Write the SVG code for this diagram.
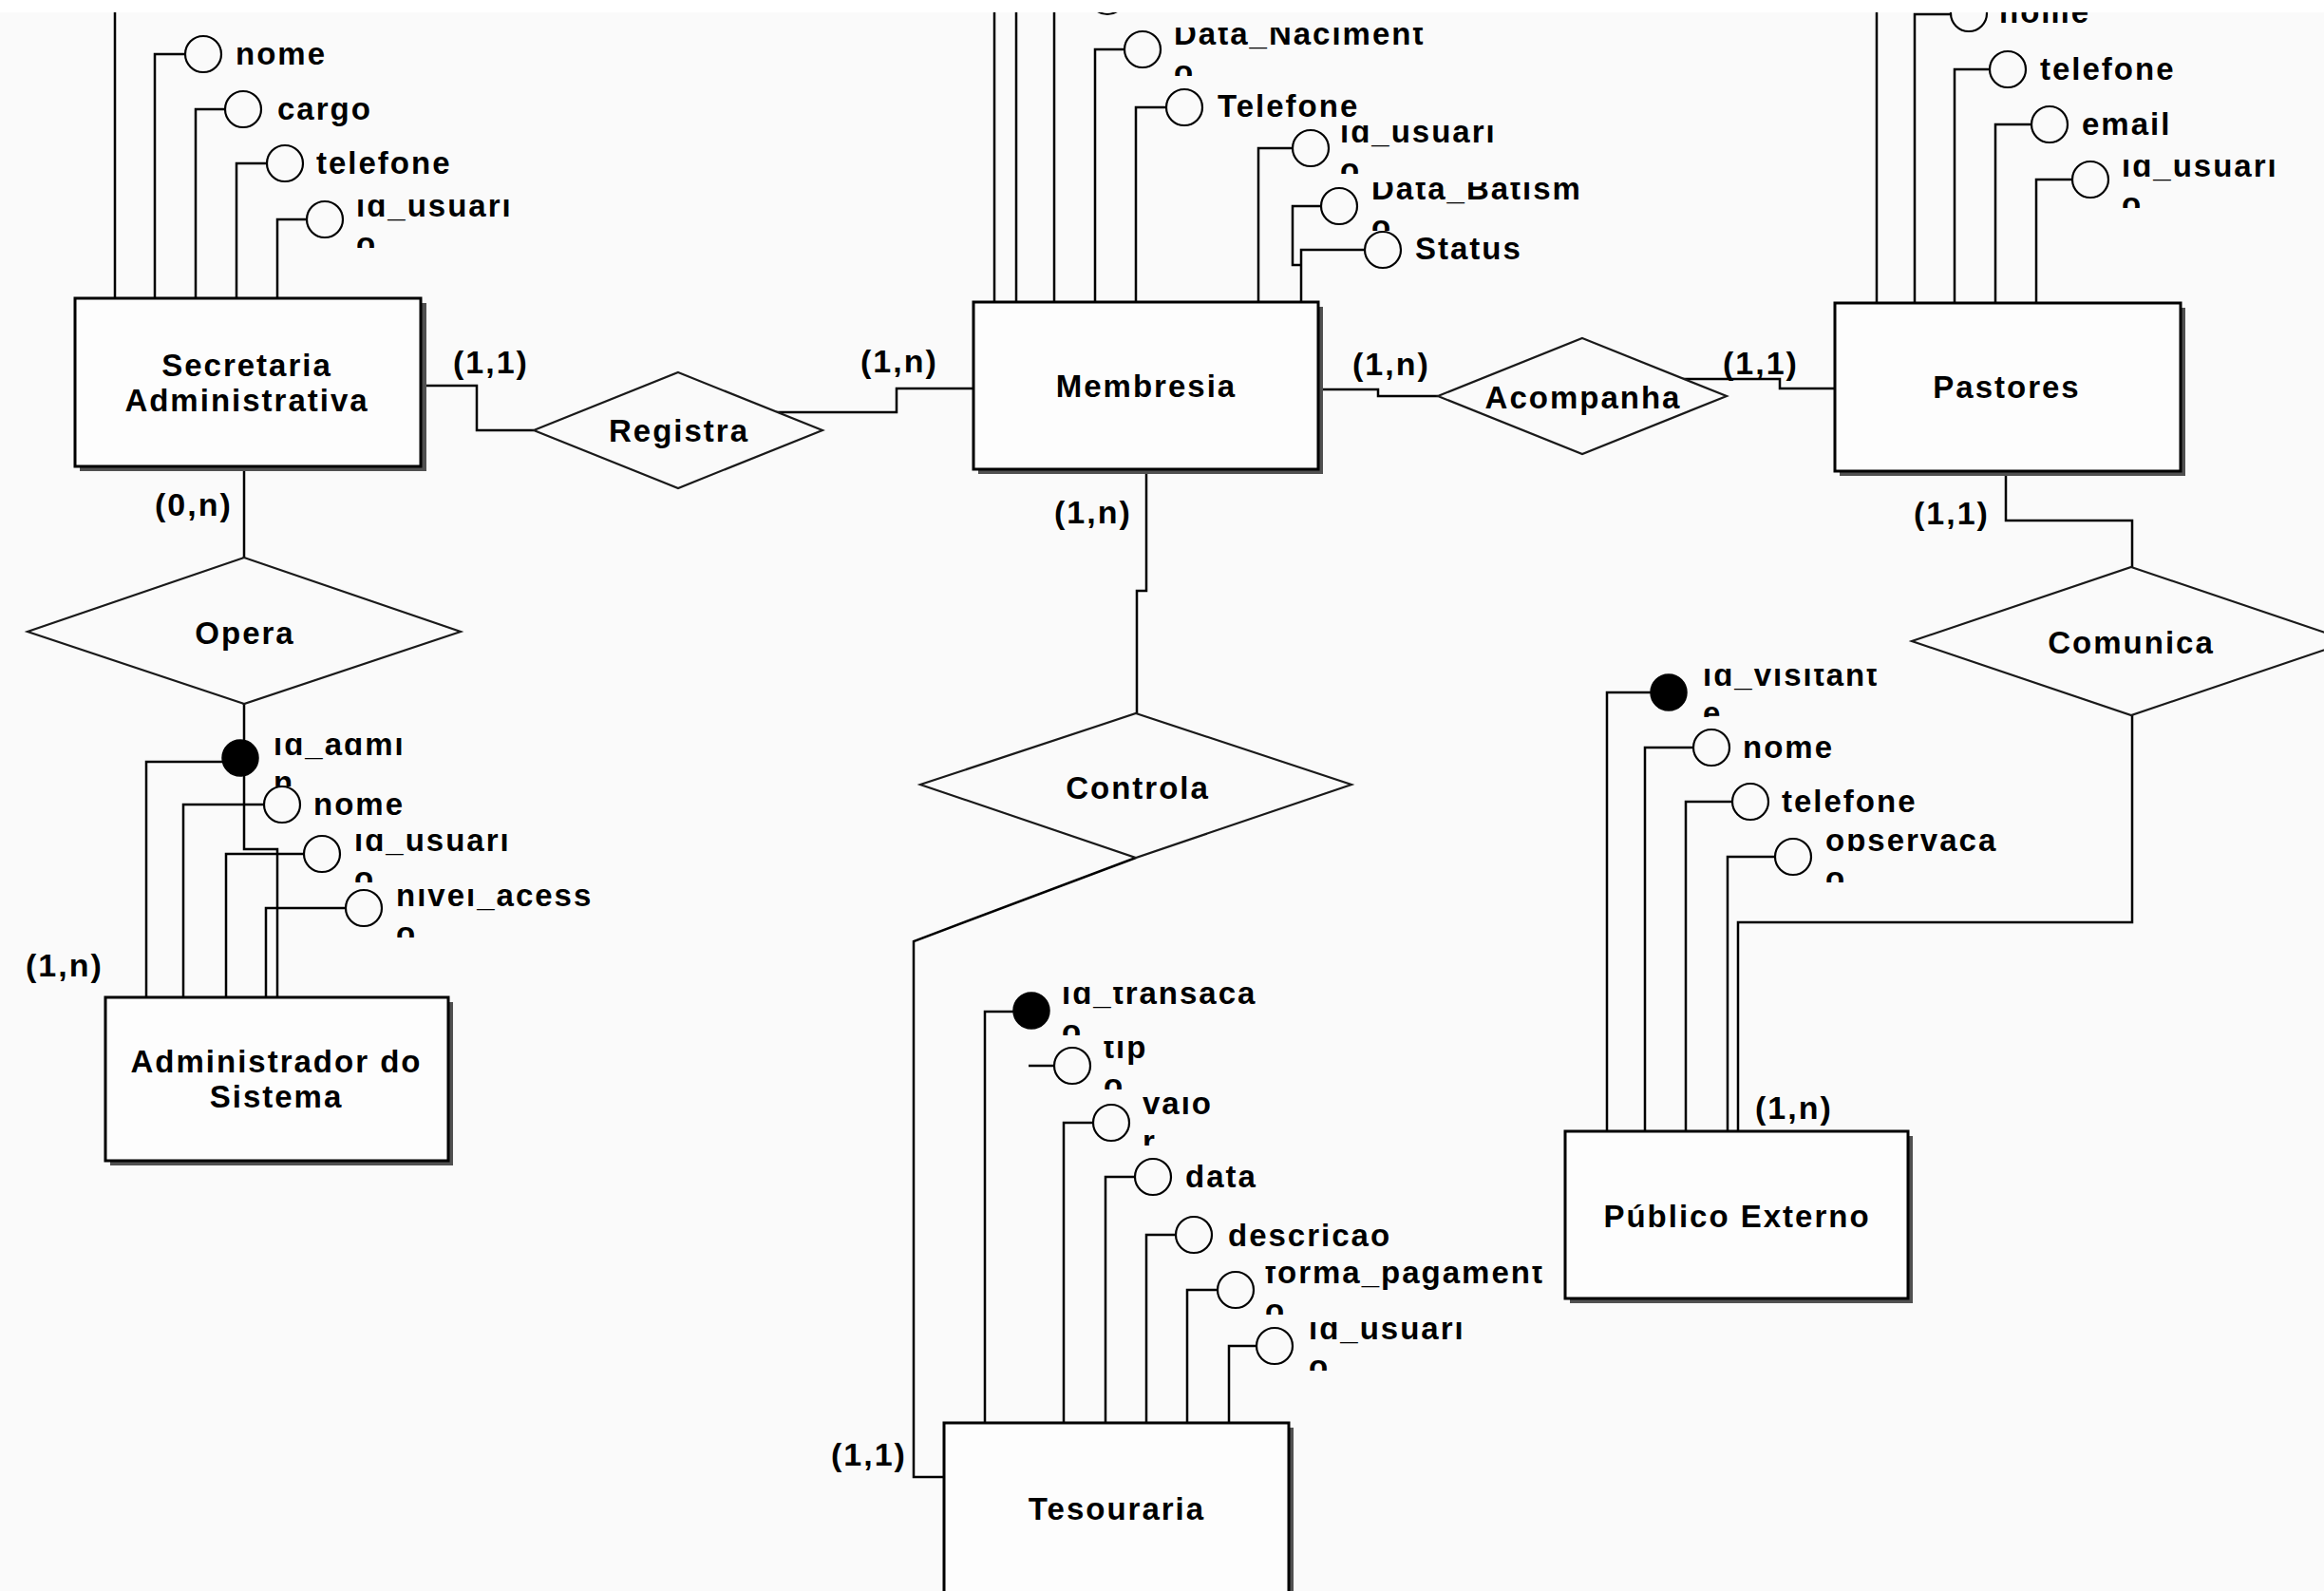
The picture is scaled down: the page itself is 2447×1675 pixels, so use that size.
<svg xmlns="http://www.w3.org/2000/svg" width="2447" height="1675" viewBox="0 0 2447 1675">
<style>
text{font-family:"Liberation Sans",Arial,sans-serif;font-weight:bold;fill:#000}
.t{font-size:33px;letter-spacing:2px}
.c{font-size:34px;letter-spacing:2px}
.mid{text-anchor:middle}
.ent{fill:#fdfdfd;stroke:#000;stroke-width:3}
.sh{fill:#505050}
.rel{fill:#fafafa;stroke:#1a1a1a;stroke-width:2.2}
.att{fill:none;stroke:#000;stroke-width:2.2}
.key{fill:#000;stroke:#000;stroke-width:1.5}
.ln path{fill:none;stroke:#000;stroke-width:2.5}
</style>
<defs>
<clipPath id="view"><rect x="0" y="13" width="2447" height="1662"/></clipPath>
<clipPath id="k1"><rect x="372" y="210" width="320" height="51"/></clipPath>
<clipPath id="k2"><rect x="1233" y="29" width="320" height="51"/></clipPath>
<clipPath id="k3"><rect x="1408" y="132" width="320" height="51"/></clipPath>
<clipPath id="k4"><rect x="1441" y="192" width="320" height="51"/></clipPath>
<clipPath id="k5"><rect x="2231" y="168" width="320" height="51"/></clipPath>
<clipPath id="k6"><rect x="285" y="777" width="320" height="51"/></clipPath>
<clipPath id="k7"><rect x="370" y="878" width="320" height="51"/></clipPath>
<clipPath id="k8"><rect x="414" y="936" width="320" height="51"/></clipPath>
<clipPath id="k9"><rect x="1115" y="1039" width="320" height="51"/></clipPath>
<clipPath id="k10"><rect x="1159" y="1096" width="320" height="51"/></clipPath>
<clipPath id="k11"><rect x="1200" y="1155" width="320" height="51"/></clipPath>
<clipPath id="k12"><rect x="1329" y="1333" width="330" height="51"/></clipPath>
<clipPath id="k13"><rect x="1375" y="1392" width="320" height="51"/></clipPath>
<clipPath id="k14"><rect x="1790" y="704" width="320" height="51"/></clipPath>
<clipPath id="k15"><rect x="1919" y="878" width="320" height="51"/></clipPath>
</defs>
<rect x="0" y="0" width="2447" height="1675" fill="#fafafa"/>
<rect x="0" y="0" width="2447" height="13" fill="#ffffff"/>
<g clip-path="url(#view)">
<g id="connectors" class="ln">
<path d="M443,406 H502 V453 H562"/>
<path d="M817,434 H944 V409 H1025"/>
<path d="M257,491 V587"/>
<path d="M257,741 V894 H292 V1050"/>
<path d="M1390,410 H1451 V417 H1514"/>
<path d="M1771,399 H1874 V409 H1932"/>
<path d="M1207,494 V622 H1197 V751"/>
<path d="M1196,903 L962,991 V1555 H994"/>
<path d="M2112,496 V548 H2245 V597"/>
<path d="M2245,753 V971 H1830 V1191"/>
<path d="M121,314 V0"/>
<path d="M163,314 V57 H195"/>
<path d="M206,314 V115 H237"/>
<path d="M249,314 V172 H281"/>
<path d="M292,314 V231 H323"/>
<path d="M1047,318 V0"/>
<path d="M1070,318 V0"/>
<path d="M1110,318 V0"/>
<path d="M1153,318 V52 H1184"/>
<path d="M1196,318 V113 H1228"/>
<path d="M1325,318 V156 H1361"/>
<path d="M1370,279 H1361 V217 H1391"/>
<path d="M1370,318 V263 H1437"/>
<path d="M1976,319 V0"/>
<path d="M2016,319 V15 H2054"/>
<path d="M2058,319 V73 H2095"/>
<path d="M2101,319 V131 H2139"/>
<path d="M2144,319 V189 H2182"/>
<path d="M154,1050 V802 H234"/>
<path d="M193,1050 V847 H278"/>
<path d="M238,1050 V899 H320"/>
<path d="M280,1050 V956 H364"/>
<path d="M1037,1498 V1065 H1067"/>
<path d="M1083,1122 H1110"/>
<path d="M1120,1498 V1182 H1151"/>
<path d="M1164,1498 V1239 H1195"/>
<path d="M1207,1498 V1300 H1238"/>
<path d="M1250,1498 V1358 H1282"/>
<path d="M1294,1498 V1417 H1323"/>
<path d="M1692,1191 V729 H1738"/>
<path d="M1732,1191 V787 H1783"/>
<path d="M1775,1191 V844 H1824"/>
<path d="M1819,1191 V902 H1869"/>
</g>

<g id="cardinalities">
<text class="c" x="477" y="393">(1,1)</text>
<text class="c" x="906" y="392">(1,n)</text>
<text class="c" x="163" y="543">(0,n)</text>
<text class="c" x="27" y="1028">(1,n)</text>
<text class="c" x="1424" y="395">(1,n)</text>
<text class="c" x="1814" y="394">(1,1)</text>
<text class="c" x="1110" y="551">(1,n)</text>
<text class="c" x="2015" y="552">(1,1)</text>
<text class="c" x="1848" y="1178">(1,n)</text>
<text class="c" x="875" y="1543">(1,1)</text>
</g>

<g id="secretaria">
<rect class="sh" x="84" y="319" width="365" height="177"/>
<rect class="ent" x="79" y="314" width="364" height="177"/>
<text class="t mid"><tspan x="260" y="396">Secretaria</tspan><tspan x="260" y="433">Administrativa</tspan></text>
</g>
<g id="membresia">
<rect class="sh" x="1030" y="323" width="363" height="176"/>
<rect class="ent" x="1025" y="318" width="363" height="176"/>
<text class="t mid" x="1207" y="418">Membresia</text>
</g>
<g id="pastores">
<rect class="sh" x="1937" y="324" width="364" height="177"/>
<rect class="ent" x="1932" y="319" width="364" height="177"/>
<text class="t mid" x="2113" y="419">Pastores</text>
</g>
<g id="administrador">
<rect class="sh" x="116" y="1055" width="361" height="172"/>
<rect class="ent" x="111" y="1050" width="361" height="172"/>
<text class="t mid"><tspan x="291" y="1129">Administrador do</tspan><tspan x="291" y="1166">Sistema</tspan></text>
</g>
<g id="publico-externo">
<rect class="sh" x="1653" y="1196" width="361" height="176"/>
<rect class="ent" x="1648" y="1191" width="361" height="176"/>
<text class="t mid" x="1829" y="1292">Público Externo</text>
</g>
<g id="tesouraria">
<rect class="sh" x="999" y="1503" width="363" height="190"/>
<rect class="ent" x="994" y="1498" width="363" height="190"/>
<text class="t mid" x="1176" y="1600">Tesouraria</text>
</g>

<g id="registra">
<polygon class="rel" points="714,392 866,453 714,514 562,453"/>
<text class="t mid" x="715" y="465">Registra</text>
</g>
<g id="opera">
<polygon class="rel" points="257,587 485,665 257,741 29,665"/>
<text class="t mid" x="258" y="678">Opera</text>
</g>
<g id="acompanha">
<polygon class="rel" points="1666,356 1818,417 1666,478 1514,417"/>
<text class="t mid" x="1667" y="430">Acompanha</text>
</g>
<g id="controla">
<polygon class="rel" points="1196,751 1423,826 1196,903 969,826"/>
<text class="t mid" x="1198" y="841">Controla</text>
</g>
<g id="comunica">
<polygon class="rel" points="2244,597 2475,675 2244,753 2013,675"/>
<text class="t mid" x="2244" y="688">Comunica</text>
</g>

<g id="sec-nome"><circle class="att" cx="214" cy="57" r="19"/><text class="t" x="248" y="68">nome</text></g>
<g id="sec-cargo"><circle class="att" cx="256" cy="115" r="19"/><text class="t" x="292" y="126">cargo</text></g>
<g id="sec-telefone"><circle class="att" cx="300" cy="172" r="19"/><text class="t" x="333" y="183">telefone</text></g>
<g id="sec-id-usuario"><circle class="att" cx="342" cy="231" r="19"/><text class="t" clip-path="url(#k1)"><tspan x="375" y="228">id_usuari</tspan><tspan x="375" y="268">o</tspan></text></g>

<g id="mem-attr-top"><circle class="att" cx="1166" cy="-4" r="19"/></g>
<g id="mem-data-nascimento"><circle class="att" cx="1203" cy="52" r="19"/><text class="t" clip-path="url(#k2)"><tspan x="1236" y="47">Data_Naciment</tspan><tspan x="1236" y="87">o</tspan></text></g>
<g id="mem-telefone"><circle class="att" cx="1247" cy="113" r="19"/><text class="t" x="1282" y="123">Telefone</text></g>
<g id="mem-id-usuario"><circle class="att" cx="1380" cy="156" r="19"/><text class="t" clip-path="url(#k3)"><tspan x="1411" y="150">id_usuari</tspan><tspan x="1411" y="190">o</tspan></text></g>
<g id="mem-data-batismo"><circle class="att" cx="1410" cy="217" r="19"/><text class="t" clip-path="url(#k4)"><tspan x="1444" y="210">Data_Batism</tspan><tspan x="1444" y="250">o</tspan></text></g>
<g id="mem-status"><circle class="att" cx="1456" cy="263" r="19"/><text class="t" x="1490" y="273">Status</text></g>

<g id="pas-nome"><circle class="att" cx="2073" cy="14" r="19"/><text class="t" x="2105" y="24">nome</text></g>
<g id="pas-telefone"><circle class="att" cx="2114" cy="73" r="19"/><text class="t" x="2148" y="84">telefone</text></g>
<g id="pas-email"><circle class="att" cx="2158" cy="131" r="19"/><text class="t" x="2192" y="142">email</text></g>
<g id="pas-id-usuario"><circle class="att" cx="2201" cy="189" r="19"/><text class="t" clip-path="url(#k5)"><tspan x="2234" y="186">id_usuari</tspan><tspan x="2234" y="226">o</tspan></text></g>

<g id="adm-id-admin"><circle class="key" cx="253" cy="798" r="19"/><text class="t" clip-path="url(#k6)"><tspan x="288" y="795">id_admi</tspan><tspan x="288" y="835">n</tspan></text></g>
<g id="adm-nome"><circle class="att" cx="297" cy="847" r="19"/><text class="t" x="330" y="858">nome</text></g>
<g id="adm-id-usuario"><circle class="att" cx="339" cy="899" r="19"/><text class="t" clip-path="url(#k7)"><tspan x="373" y="896">id_usuari</tspan><tspan x="373" y="936">o</tspan></text></g>
<g id="adm-nivel-acesso"><circle class="att" cx="383" cy="956" r="19"/><text class="t" clip-path="url(#k8)"><tspan x="417" y="954">nivel_acess</tspan><tspan x="417" y="994">o</tspan></text></g>

<g id="tes-id-transacao"><circle class="key" cx="1086" cy="1064" r="19"/><text class="t" clip-path="url(#k9)"><tspan x="1118" y="1057">id_transaca</tspan><tspan x="1118" y="1097">o</tspan></text></g>
<g id="tes-tipo"><circle class="att" cx="1129" cy="1122" r="19"/><text class="t" clip-path="url(#k10)"><tspan x="1162" y="1114">tip</tspan><tspan x="1162" y="1154">o</tspan></text></g>
<g id="tes-valor"><circle class="att" cx="1170" cy="1182" r="19"/><text class="t" clip-path="url(#k11)"><tspan x="1203" y="1173">valo</tspan><tspan x="1203" y="1213">r</tspan></text></g>
<g id="tes-data"><circle class="att" cx="1214" cy="1239" r="19"/><text class="t" x="1248" y="1250">data</text></g>
<g id="tes-descricao"><circle class="att" cx="1257" cy="1300" r="19"/><text class="t" x="1293" y="1312">descricao</text></g>
<g id="tes-forma-pagamento"><circle class="att" cx="1301" cy="1358" r="19"/><text class="t" clip-path="url(#k12)"><tspan x="1332" y="1351">forma_pagament</tspan><tspan x="1332" y="1391">o</tspan></text></g>
<g id="tes-id-usuario"><circle class="att" cx="1342" cy="1417" r="19"/><text class="t" clip-path="url(#k13)"><tspan x="1378" y="1410">id_usuari</tspan><tspan x="1378" y="1450">o</tspan></text></g>

<g id="pub-id-visitante"><circle class="key" cx="1757" cy="729" r="19"/><text class="t" clip-path="url(#k14)"><tspan x="1793" y="722">id_visitant</tspan><tspan x="1793" y="762">e</tspan></text></g>
<g id="pub-nome"><circle class="att" cx="1802" cy="787" r="19"/><text class="t" x="1835" y="798">nome</text></g>
<g id="pub-telefone"><circle class="att" cx="1843" cy="844" r="19"/><text class="t" x="1876" y="855">telefone</text></g>
<g id="pub-observacao"><circle class="att" cx="1888" cy="902" r="19"/><text class="t" clip-path="url(#k15)"><tspan x="1922" y="896">observaca</tspan><tspan x="1922" y="936">o</tspan></text></g>
</g>
</svg>
